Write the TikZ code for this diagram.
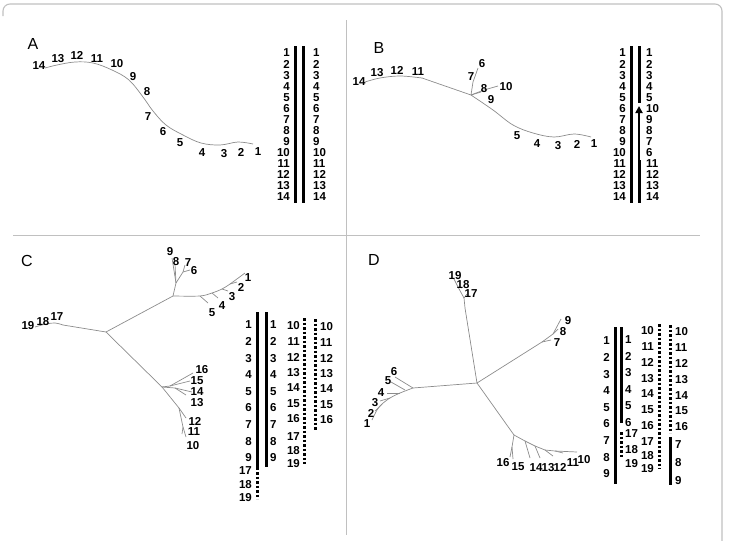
\documentclass[tikz,border=0pt]{standalone}
\usepackage{fontspec}
\setmainfont{Liberation Sans}
\usetikzlibrary{arrows.meta}
\definecolor{framegray}{RGB}{192,192,192}
\definecolor{treegray}{RGB}{140,140,140}
\tikzset{
  num/.style={font=\fontsize{11.5}{12}\selectfont\bfseries, inner sep=0pt},
  panel/.style={font=\fontsize{16}{18}\selectfont, inner sep=0pt},
  tree/.style={treegray, line width=0.7pt, line join=round},
  bar/.style={line width=3pt},
  dotbar/.style={line width=3pt, dash pattern=on 2.6pt off 1.9pt},
}
\begin{document}
\begin{tikzpicture}[x=1pt,y=-1pt]
  \useasboundingbox (0,0) rectangle (729,541);
  % frame and dividers
  \draw[framegray, line width=1.1pt, rounded corners=7pt] (3,16) -- (3,4) -- (722,4) -- (722,541);
  \draw[framegray, line width=0.9pt] (346,20) -- (346,535);
  \draw[framegray, line width=0.9pt] (13,235) -- (700,235);

  % ---------- A ----------
  \node[panel] (labA) at (33,44) {A};
  \draw[tree] plot[smooth, tension=0.6] coordinates {(45,68) (57,65) (75,62) (93,63) (112,70) (129,80) (143,97) (153,111) (166,125) (183,135) (201,143) (220,145) (238,142) (253,144)};
  \foreach \n/\x/\y in {14/39/66, 13/58/59, 12/77/55, 11/97/59, 10/117/64, 9/133/77, 8/147/92,
      7/148/117, 6/163/132, 5/180/143, 4/202/153, 3/224/154, 2/241/152, 1/258/152}
    \node[num] (ta\n) at (\x,\y) {\n};
  % bars
  \draw[bar] (295,46) -- (295,203);
  \draw[bar] (303,46) -- (303,203);
  \foreach \n [count=\i] in {1,...,14} {
    \node[num, anchor=east] (aL\i) at (290,{53+(\i-1)*11.08}) {\n};
    \node[num, anchor=west] (aR\i) at (313,{53+(\i-1)*11.08}) {\n};
  }

  % ---------- B ----------
  \node[panel] (labB) at (379,48) {B};
  \coordinate (bhub) at (471,95);
  \draw[tree] plot[smooth, tension=0.6] coordinates {(365,82) (380,78) (400,76) (422,78)};
  \draw[tree] (422,78) -- (bhub);
  \draw[tree] plot[smooth, tension=0.6] coordinates {(bhub) (493,110) (513,125) (533,133) (554,137) (574,134) (591,137)};
  \draw[tree] (bhub) -- (473,82) -- (478,68);
  \draw[tree] (bhub) -- (481,92);
  \draw[tree] (bhub) -- (484,90) -- (498,86);
  \foreach \n/\x/\y in {14/359/82, 13/377/73, 12/397/70, 11/418/72, 7/471/77, 6/482/64, 8/484/89,
      10/506/87, 9/491/100, 5/517/136, 4/537/144, 3/558/146, 2/577/144, 1/594/144}
    \node[num] (tb\n) at (\x,\y) {\n};
  % bars
  \draw[bar] (631,46) -- (631,203);
  \draw[bar] (639,46) -- (639,103);
  \draw[bar] (639,160) -- (639,203);
  \draw[line width=1.8pt, -{Triangle[length=7pt,width=7pt]}] (639,161) -- (639,106);
  \foreach \n [count=\i] in {1,...,14}
    \node[num, anchor=east] (bL\i) at (626,{53+(\i-1)*11.08}) {\n};
  \foreach \n [count=\i] in {1,2,3,4,5,10,9,8,7,6,11,12,13,14}
    \node[num, anchor=west] (bR\i) at (646,{53+(\i-1)*11.08}) {\n};

  % ---------- C ----------
  \node[panel] (labC) at (27,261) {C};
  \coordinate (cmid) at (106,332);
  \coordinate (cup) at (173,296);
  \coordinate (clow) at (162,387);
  \draw[tree] (cup) -- (cmid) -- (clow);
  \draw[tree] (cmid) -- (63,325);
  \draw[tree] plot[smooth, tension=0.6] coordinates {(63,325) (55,323) (46,324) (35,327)};
  \draw[tree] (cup) -- (176,283) -- (172,258);
  \draw[tree] (176,283) -- (175,264);
  \draw[tree] (176,283) -- (183,272) -- (185,265);
  \draw[tree] (183,272) -- (190,270);
  \draw[tree] plot[smooth, tension=0.5] coordinates {(cup) (200,296) (212,293) (222,289) (230,284) (245,273)};
  \draw[tree] (200,296) -- (208,303);
  \draw[tree] (212,293) -- (218,298);
  \draw[tree] (222,289) -- (228,291);
  \draw[tree] (230,284) -- (237,282);
  \draw[tree] (clow) -- (170,386) -- (193,373);
  \draw[tree] (170,386) -- (190,381);
  \draw[tree] (clow) -- (175,388) -- (192,392);
  \draw[tree] (175,388) -- (186,395);
  \draw[tree] (clow) -- (179,408) -- (186,418);
  \draw[tree] (179,408) -- (183,427) -- (186,437);
  \draw[tree] (183,427) -- (182,434);
  \foreach \n/\x/\y in {19/28/326, 18/43/322, 17/57/317, 9/170/252, 8/176/262, 7/188/263, 6/194/271,
      1/248/278, 2/241/287, 3/232/297, 4/222/306, 5/212/313,
      16/202/370, 15/197/381, 14/197/392, 13/197/403, 12/195/421, 11/194/432, 10/193/446}
    \node[num] (tc\n) at (\x,\y) {\n};
  % bars
  \draw[bar] (257,312) -- (257,470);
  \draw[dotbar] (257,472) -- (257,499);
  \draw[bar] (266,312) -- (266,467);
  \draw[dotbar] (304,318) -- (304,464);
  \draw[dotbar] (315,319) -- (315,431);
  \foreach \n [count=\i] in {1,...,9} {
    \node[num, anchor=east] (cL\n) at (252,{325+(\i-1)*16.6}) {\n};
    \node[num, anchor=west] (cR\n) at (270,{325+(\i-1)*16.6}) {\n};
  }
  \foreach \n/\y in {17/471, 18/485, 19/498}
    \node[num, anchor=east] (cL\n) at (252,\y) {\n};
  \foreach \n [count=\i] in {10,...,16} {
    \node[num, anchor=east] (cP\n) at (300,{326+(\i-1)*15.5}) {\n};
    \node[num, anchor=west] (cQ\n) at (320,{327+(\i-1)*15.5}) {\n};
  }
  \foreach \n/\y in {17/437, 18/451, 19/464}
    \node[num, anchor=east] (cP\n) at (300,\y) {\n};

  % ---------- D ----------
  \node[panel] (labD) at (374,260) {D};
  \coordinate (dmid) at (477,383);
  \coordinate (dtop) at (465,308);
  \coordinate (dne) at (542,342);
  \coordinate (dwest) at (413,388);
  \coordinate (dse) at (514,435);
  \draw[tree] (dtop) -- (dmid) -- (dne);
  \draw[tree] (dwest) -- (dmid) -- (dse);
  \draw[tree] (dtop) -- (464,298) -- (467,294);
  \draw[tree] (464,298) -- (458,287) -- (454,279);
  \draw[tree] (458,287) -- (462,288);
  \draw[tree] (dne) -- (553,334) -- (561,319);
  \draw[tree] (553,334) -- (558,329);
  \draw[tree] (dne) -- (551,340);
  \draw[tree] plot[smooth, tension=0.5] coordinates {(dwest) (400,393) (390,398) (382,404) (377,410) (372,420)};
  \draw[tree] (dwest) -- (395,377);
  \draw[tree] (405,390) -- (391,382);
  \draw[tree] (400,393) -- (387,393);
  \draw[tree] (390,398) -- (380,401);
  \draw[tree] (382,404) -- (375,411);
  \draw[tree] (dse) -- (512,447) -- (510,457);
  \draw[tree] (512,447) -- (513,459);
  \draw[tree] (dse) -- (525,441) -- (530,458);
  \draw[tree] (525,441) -- (535,446) -- (540,458);
  \draw[tree] (535,446) -- (545,450) -- (553,456);
  \draw[tree] (545,450) -- (555,451) -- (563,453);
  \draw[tree] (555,451) -- (577,452);
  \foreach \n/\x/\y in {19/455/276, 18/463/285, 17/471/294, 9/568/321, 8/563/332, 7/557/343,
      6/394/372, 5/388/381, 4/381/393, 3/375/403, 2/371/413, 1/367/424,
      16/503/463, 15/518/467, 14/536/468, 13/548/468, 12/560/467, 11/573/463, 10/584/460}
    \node[num] (td\n) at (\x,\y) {\n};
  % bars
  \draw[bar] (615,327) -- (615,484);
  \draw[bar] (621,327) -- (621,423);
  \draw[dotbar] (621,432) -- (621,458);
  \draw[dotbar] (659,324) -- (659,469);
  \draw[dotbar] (670,325) -- (670,433);
  \draw[bar] (670,437) -- (670,485);
  \foreach \n [count=\i] in {1,...,9}
    \node[num, anchor=east] (dL\n) at (610,{341+(\i-1)*16.6}) {\n};
  \foreach \n [count=\i] in {1,...,6}
    \node[num, anchor=west] (dR\n) at (625,{340+(\i-1)*16.5}) {\n};
  \foreach \n/\y in {17/434, 18/450, 19/464}
    \node[num, anchor=west] (dR\n) at (625,\y) {\n};
  \foreach \n [count=\i] in {10,...,16} {
    \node[num, anchor=east] (dP\n) at (654,{331+(\i-1)*15.7}) {\n};
    \node[num, anchor=west] (dQ\n) at (675,{332+(\i-1)*15.8}) {\n};
  }
  \foreach \n/\y in {17/442, 18/456, 19/469}
    \node[num, anchor=east] (dP\n) at (654,\y) {\n};
  \foreach \n/\y in {7/445, 8/463, 9/481}
    \node[num, anchor=west] (dQ\n) at (675,\y) {\n};
\end{tikzpicture}
\end{document}
